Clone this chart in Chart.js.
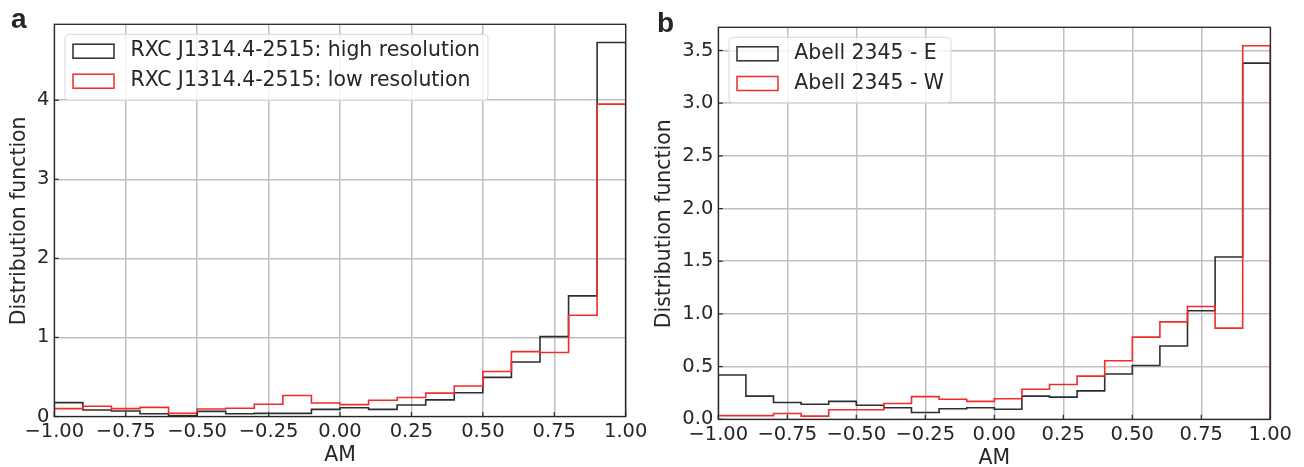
<!DOCTYPE html>
<html>
<head>
<meta charset="utf-8">
<script src="https://cdn.jsdelivr.net/npm/chart.js@4.4.1/dist/chart.umd.min.js"></script>
<style>
  body { margin: 0; background: #fff; }
  #wrap { position: relative; width: 1304px; height: 467px; }
  canvas { position: absolute; top: 0; }
</style>
</head>
<body>
<div id="wrap">
  <canvas id="panelA" width="652" height="467" style="left:0"></canvas>
  <canvas id="panelB" width="652" height="467" style="left:652px"></canvas>
</div>
<script>
// bin edges of the AM histograms
const binEdges = [-1.0, -0.9, -0.8, -0.7, -0.6, -0.5, -0.4, -0.3, -0.2, -0.1, 0.0,
                  0.1, 0.2, 0.3, 0.4, 0.5, 0.6, 0.7, 0.8, 0.9, 1.0];
const xTicks = [-1, -0.75, -0.5, -0.25, 0, 0.25, 0.5, 0.75, 1];
const yTicksA = [0, 1, 2, 3, 4];
const yTicksB = [0, 0.5, 1.0, 1.5, 2.0, 2.5, 3.0, 3.5];

// panel a
const highRes = [0.175, 0.082, 0.07, 0.035, 0.01, 0.065, 0.035, 0.04, 0.04, 0.09,
                 0.11, 0.09, 0.145, 0.21, 0.30, 0.495, 0.69, 1.01, 1.525, 4.73];
const lowRes  = [0.10, 0.13, 0.10, 0.115, 0.04, 0.095, 0.105, 0.155, 0.265, 0.17,
                 0.15, 0.205, 0.24, 0.295, 0.385, 0.57, 0.82, 0.81, 1.28, 3.95];
// panel b
const abellE = [0.42, 0.22, 0.16, 0.143, 0.17, 0.134, 0.11, 0.065, 0.10, 0.11,
                0.095, 0.22, 0.21, 0.27, 0.43, 0.51, 0.695, 1.03, 1.54, 3.38];
const abellW = [0.035, 0.035, 0.055, 0.03, 0.09, 0.09, 0.15, 0.215, 0.19, 0.17,
                0.195, 0.285, 0.33, 0.41, 0.555, 0.78, 0.925, 1.07, 0.865, 3.545];

const BLACK = '#2e2e2e';
const RED = '#f02c2c';
const TEXT = '#262626';
const GRID = '#c0c0c4';
Chart.defaults.font.family = '"DejaVu Sans", sans-serif';
Chart.defaults.color = TEXT;

function steps(vals) {
  // outline of a step histogram, from 0 up and back down to 0
  const pts = [{x: binEdges[0], y: 0}];
  vals.forEach((v, i) => pts.push({x: binEdges[i], y: v}));
  pts.push({x: binEdges[binEdges.length - 1], y: vals[vals.length - 1]});
  pts.push({x: binEdges[binEdges.length - 1], y: 0});
  return pts;
}

const minus = s => s.replace('-', '\u2212');

// frame, inward ticks, axis titles, panel letter and legend
const decor = {
  id: 'decor',
  afterDatasetsDraw(chart, args, o) {
    const ctx = chart.ctx, a = chart.chartArea;
    ctx.save();
    // inward ticks
    ctx.strokeStyle = TEXT; ctx.lineWidth = 1.2;
    chart.scales.x.ticks.forEach(t => {
      const px = chart.scales.x.getPixelForValue(t.value);
      ctx.beginPath(); ctx.moveTo(px, a.bottom); ctx.lineTo(px, a.bottom - 4.5); ctx.stroke();
    });
    chart.scales.y.ticks.forEach(t => {
      const py = chart.scales.y.getPixelForValue(t.value);
      ctx.beginPath(); ctx.moveTo(a.left, py); ctx.lineTo(a.left + 4.5, py); ctx.stroke();
    });
    // frame
    ctx.lineWidth = 1.3;
    ctx.strokeRect(a.left, a.top, a.right - a.left, a.bottom - a.top);

    // legend
    const L = o.legend;
    ctx.beginPath();
    ctx.roundRect(L.x, L.y, L.w, L.h, 4);
    ctx.fillStyle = 'rgba(255,255,255,0.8)';
    ctx.fill();
    ctx.strokeStyle = '#d8d8d8'; ctx.lineWidth = 1;
    ctx.stroke();
    ctx.font = '20.4px "DejaVu Sans"';
    ctx.textBaseline = 'middle'; ctx.textAlign = 'left';
    chart.data.datasets.forEach((ds, i) => {
      const cy = L.rows[i];
      ctx.strokeStyle = ds.borderColor; ctx.lineWidth = 1.5;
      ctx.strokeRect(L.px, cy - 7, 41, 14);
      ctx.fillStyle = TEXT;
      ctx.fillText(ds.label, L.tx, cy);
    });

    // axis titles
    ctx.fillStyle = TEXT;
    ctx.textAlign = 'center';
    ctx.fillText('AM', (a.left + a.right) / 2, a.bottom + 39.5);
    ctx.save();
    ctx.translate(o.ytitleX, (a.top + a.bottom) / 2 + 0.5);
    ctx.rotate(-Math.PI / 2);
    ctx.fillText('Distribution function', 0, 0);
    ctx.restore();

    // panel letter
    ctx.font = 'bold 28px "Liberation Sans"';
    ctx.textAlign = 'left'; ctx.textBaseline = 'alphabetic';
    ctx.fillText(o.letter, o.letterX, o.letterY);
    ctx.restore();
  }
};

function makePanel(id, datasets, yTicks, yMax, yFmt, box, decorOpts) {
  const W = 652, H = 467;
  new Chart(document.getElementById(id), {
    type: 'line',
    data: {datasets: datasets.map(d => ({
      label: d.label,
      data: steps(d.values),
      borderColor: d.color,
      borderWidth: 1.6,
      stepped: 'before',
      pointRadius: 0,
      fill: false,
      order: d.order
    }))},
    options: {
      responsive: false,
      animation: false,
      events: [],
      layout: {padding: {left: 0, top: box.top, right: W - box.right, bottom: 0}},
      plugins: {legend: {display: false}, tooltip: {enabled: false}, decor: decorOpts},
      scales: {
        x: {
          type: 'linear', min: -1, max: 1,
          afterBuildTicks: s => { s.ticks = xTicks.map(v => ({value: v})); },
          afterFit: s => { s.height = H - box.bottom; },
          grid: {color: GRID, lineWidth: 1.5, drawTicks: false},
          border: {display: false},
          ticks: {padding: 4, maxRotation: 0, autoSkip: false,
                  font: {size: 19.5}, callback: v => minus(v.toFixed(2))}
        },
        y: {
          type: 'linear', min: 0, max: yMax,
          afterBuildTicks: s => { s.ticks = yTicks.map(v => ({value: v})); },
          afterFit: s => { s.width = box.left; },
          grid: {color: GRID, lineWidth: 1.5, drawTicks: false},
          border: {display: false},
          ticks: {padding: 5, autoSkip: false, font: {size: 19.5}, callback: yFmt}
        }
      }
    },
    plugins: [decor]
  });
}

makePanel('panelA',
  [{label: 'RXC J1314.4-2515: high resolution', values: highRes, color: BLACK, order: 2},
   {label: 'RXC J1314.4-2515: low resolution', values: lowRes, color: RED, order: 1}],
  yTicksA, 4.96, v => String(v),
  {left: 54.3, right: 625.7, top: 24.3, bottom: 416.5},
  {legend: {x: 65, y: 34.3, w: 423, h: 66, rows: [51.2, 81.2], px: 73, tx: 130.5},
   ytitleX: 19.5, letter: 'a', letterX: 11, letterY: 28});

makePanel('panelB',
  [{label: 'Abell 2345 - E', values: abellE, color: BLACK, order: 2},
   {label: 'Abell 2345 - W', values: abellW, color: RED, order: 1}],
  yTicksB, 3.72, v => v.toFixed(1),
  {left: 66.3, right: 618.3, top: 27.3, bottom: 419.3},
  {legend: {x: 77, y: 37.3, w: 222, h: 65.4, rows: [53.8, 83.5], px: 85, tx: 142.3},
   ytitleX: 13, letter: 'b', letterX: 5, letterY: 31.5});
</script>
</body>
</html>
